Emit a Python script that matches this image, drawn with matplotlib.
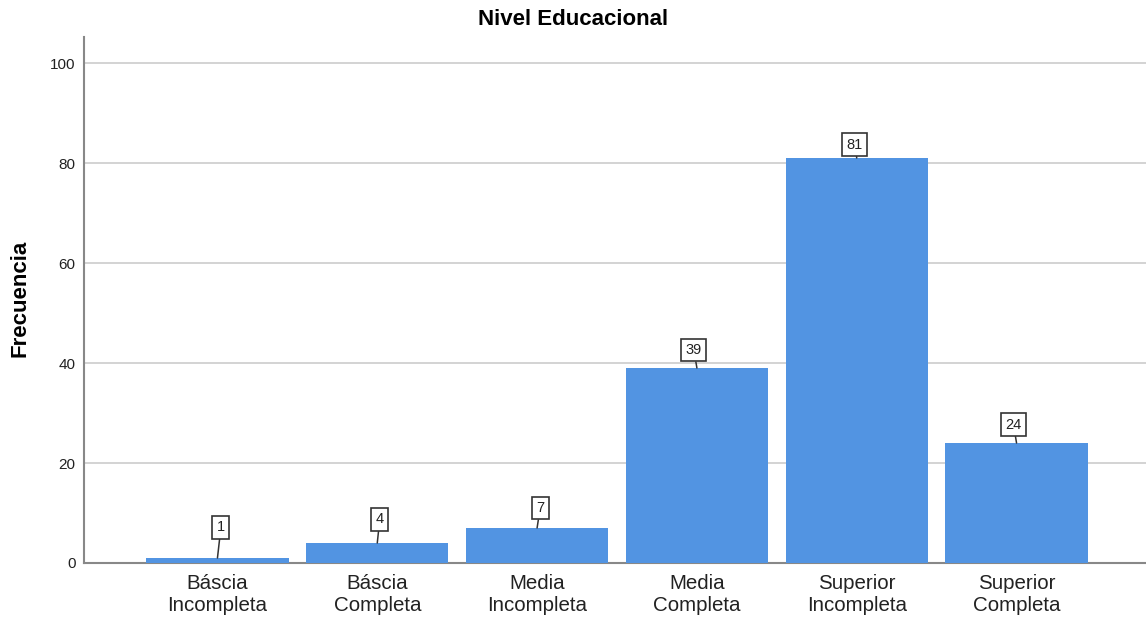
import matplotlib
matplotlib.use("Agg")
import matplotlib.pyplot as plt

categorias = ["Báscia\nIncompleta", "Báscia\nCompleta", "Media\nIncompleta",
              "Media\nCompleta", "Superior\nIncompleta", "Superior\nCompleta"]
frecuencias = [1, 4, 7, 39, 81, 24]
yticks = [0, 20, 40, 60, 80, 100]

plt.rcParams['font.family'] = ['Liberation Sans', 'DejaVu Sans']

fig = plt.figure(figsize=(11.46, 6.21), dpi=100)
ax = fig.add_axes([0.0733, 0.0934, 0.9267, 0.847])

x = list(range(len(categorias)))
ax.bar(x, frecuencias, width=0.89, color='#5294e2', zorder=3)

# etiquetas con caja y línea guía (desplazamiento en puntos)
dx = [2.5, 1.8, 2.2, -2.2, -1.4, -2.2]
dy = [22, 17, 14.4, 13, 9.7, 13.3]
for xi, v, ox, oy in zip(x, frecuencias, dx, dy):
    ax.annotate(str(v), xy=(xi, v), xytext=(ox, oy),
                textcoords='offset points', fontsize=10.5, ha='center', va='center',
                color='#222222', zorder=5,
                bbox=dict(boxstyle='square,pad=0.3', fc='white', ec='#333333', lw=1.2),
                arrowprops=dict(arrowstyle='-', color='#333333', lw=1.1,
                                shrinkA=0, shrinkB=0))

ax.set_xlim(-0.835, 5.81)
ax.set_ylim(0, 105.2)
ax.set_yticks(yticks)
ax.set_xticks(x)
ax.set_xticklabels(categorias, fontsize=14.8, color='#222222', linespacing=1.2)
ax.tick_params(axis='y', labelsize=11, colors='#222222', length=0, pad=6)
ax.tick_params(axis='x', length=0, pad=8)

ax.grid(axis='y', color='#d0d0d0', lw=1.3, zorder=0)
for s in ['top', 'right']:
    ax.spines[s].set_visible(False)
for s in ['left', 'bottom']:
    ax.spines[s].set_color('#888888')
    ax.spines[s].set_linewidth(1.5)

fig.text(0.0175, 0.52, 'Frecuencia', fontsize=16, fontweight='bold',
         rotation=90, ha='center', va='center')
fig.text(0.5, 0.968, 'Nivel Educacional', fontsize=16, fontweight='bold',
         ha='center', va='center')

fig.savefig('out.png', dpi=100)
